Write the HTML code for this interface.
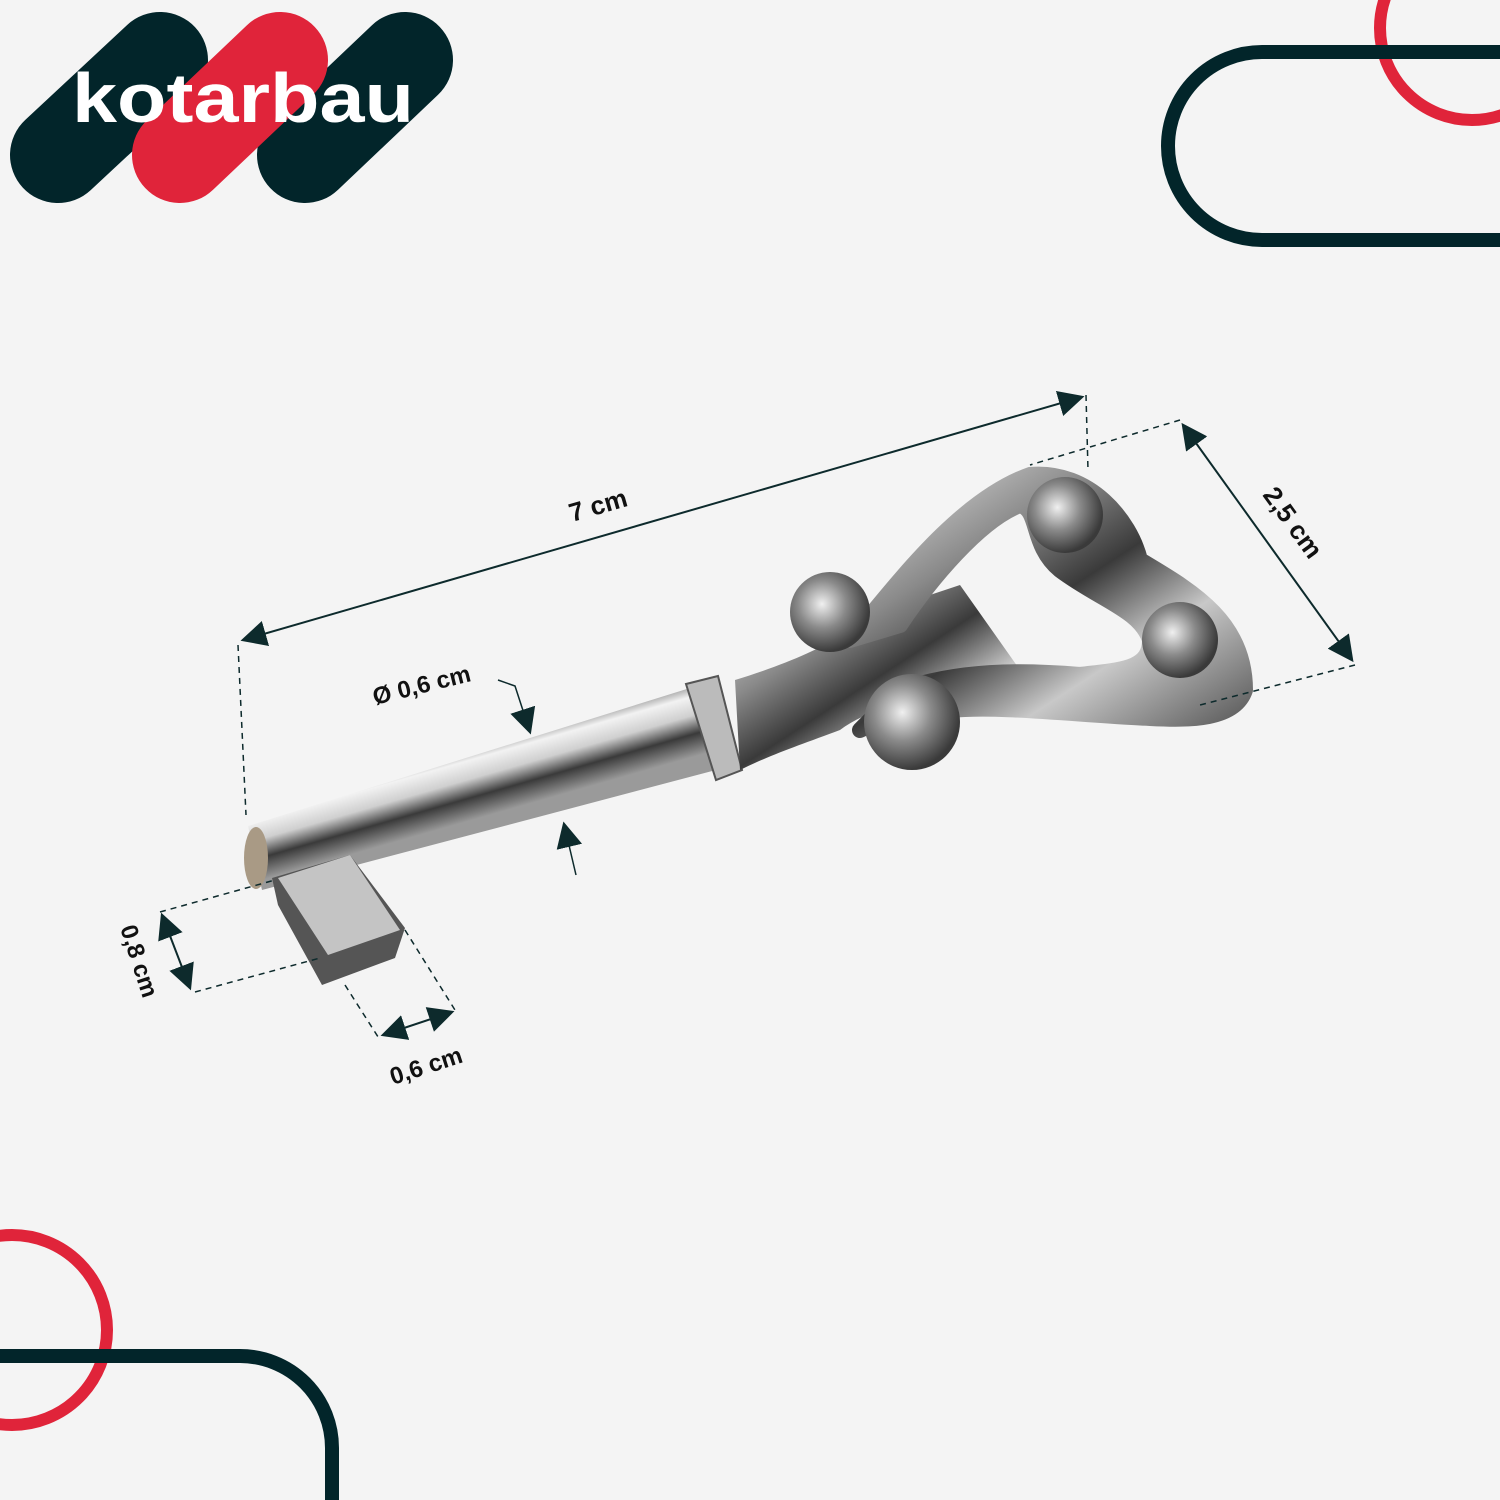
<!DOCTYPE html>
<html><head><meta charset="utf-8"><style>
html,body{margin:0;padding:0;background:#f4f4f4;}
svg{display:block}
text{font-family:"Liberation Sans",sans-serif;font-weight:bold;fill:#111;}
</style></head><body>
<svg width="1500" height="1500" viewBox="0 0 1500 1500" xmlns="http://www.w3.org/2000/svg">
<defs>
<linearGradient id="shaft" gradientUnits="userSpaceOnUse" x1="470" y1="745" x2="490" y2="815">
<stop offset="0" stop-color="#8a8a8a"/><stop offset="0.2" stop-color="#f2f2f2"/><stop offset="0.45" stop-color="#cfcfcf"/><stop offset="0.7" stop-color="#3a3a3a"/><stop offset="1" stop-color="#9a9a9a"/>
</linearGradient>
<linearGradient id="head" x1="0" y1="0" x2="1" y2="1">
<stop offset="0" stop-color="#e8e8e8"/><stop offset="0.3" stop-color="#8a8a8a"/><stop offset="0.5" stop-color="#3a3a3a"/><stop offset="0.7" stop-color="#c8c8c8"/><stop offset="1" stop-color="#555"/>
</linearGradient>
<radialGradient id="ball" cx="0.4" cy="0.4" r="0.6">
<stop offset="0" stop-color="#f0f0f0"/><stop offset="0.5" stop-color="#8a8a8a"/><stop offset="1" stop-color="#3a3a3a"/>
</radialGradient>
<marker id="ar" viewBox="0 0 10 10" refX="9" refY="5" markerWidth="26" markerHeight="26" markerUnits="userSpaceOnUse" orient="auto-start-reverse"><path d="M0,0 L10,5 L0,10 z" fill="#0d2a2c"/></marker>
</defs>
<rect width="1500" height="1500" fill="#f4f4f4"/>
<g stroke-linecap="round" fill="none">
<line x1="58" y1="155" x2="160" y2="60" stroke="#02252a" stroke-width="96"/>
<line x1="305" y1="155" x2="405" y2="60" stroke="#02252a" stroke-width="96"/>
<line x1="180" y1="155" x2="280" y2="60" stroke="#e0243a" stroke-width="96"/>
</g>
<text x="72" y="122" font-size="70" style="fill:#fff" textLength="342" lengthAdjust="spacingAndGlyphs">kotarbau</text>
<circle cx="1472" cy="28" r="92" fill="none" stroke="#e0243a" stroke-width="12"/>
<path d="M1520,52 H1262 A94,94 0 0 0 1262,240 H1520" fill="none" stroke="#02252a" stroke-width="14"/>
<circle cx="12" cy="1330" r="95" fill="none" stroke="#e0243a" stroke-width="12"/>
<path d="M-10,1356 H240 A92,92 0 0 1 332,1448 V1510" fill="none" stroke="#02252a" stroke-width="14"/>
<polygon points="248,826 690,688 716,770 262,890" fill="url(#shaft)"/>
<ellipse cx="256" cy="858" rx="12" ry="31" fill="#a99a85"/>
<polygon points="686,684 718,676 742,770 716,780" fill="#bbb" stroke="#555" stroke-width="2"/>
<path d="M735,680 C800,660 840,640 870,615 L960,585 L1020,670 C960,690 880,700 840,730 C800,745 770,755 740,770 Z" fill="url(#head)"/>
<path d="M850,640 C900,580 960,500 1030,475 C1090,470 1130,520 1140,560 C1190,590 1245,620 1245,690 C1235,720 1190,720 1150,718 C1080,715 1000,705 950,710 C920,715 880,720 860,730 L900,690 C960,670 1020,670 1080,675 C1120,670 1150,670 1150,640 C1140,610 1100,600 1060,570 C1030,545 1040,510 1020,505 C980,520 930,580 900,625 Z" fill="url(#head)" stroke="url(#head)" stroke-width="16" stroke-linejoin="round"/>
<circle cx="830" cy="612" r="40" fill="url(#ball)"/>
<circle cx="912" cy="722" r="48" fill="url(#ball)"/>
<circle cx="1065" cy="515" r="38" fill="url(#ball)"/>
<circle cx="1180" cy="640" r="38" fill="url(#ball)"/>
<polygon points="272,878 350,855 405,928 395,958 322,985 278,905" fill="#555"/>
<polygon points="278,878 350,855 400,930 328,955" fill="#c4c4c4"/>
<g stroke="#0d2a2c" stroke-width="1.5" fill="none">
<line x1="243" y1="640" x2="1082" y2="397" marker-start="url(#ar)" marker-end="url(#ar)" stroke-width="2"/>
<line x1="1183" y1="425" x2="1352" y2="660" marker-start="url(#ar)" marker-end="url(#ar)" stroke-width="2"/>
<line x1="162" y1="915" x2="190" y2="988" marker-start="url(#ar)" marker-end="url(#ar)" stroke-width="2"/>
<line x1="383" y1="1035" x2="452" y2="1012" marker-start="url(#ar)" marker-end="url(#ar)" stroke-width="2"/>
<path d="M498,680 L515,686 L530,732" marker-end="url(#ar)"/>
<line x1="576" y1="875" x2="564" y2="824" marker-end="url(#ar)"/>
<g stroke-dasharray="6,5">
<line x1="238" y1="645" x2="246" y2="815"/>
<line x1="1086" y1="395" x2="1088" y2="470"/>
<line x1="1180" y1="420" x2="1030" y2="465"/>
<line x1="1355" y1="665" x2="1200" y2="705"/>
<line x1="160" y1="912" x2="275" y2="880"/>
<line x1="195" y1="992" x2="320" y2="958"/>
<line x1="345" y1="985" x2="380" y2="1040"/>
<line x1="405" y1="930" x2="455" y2="1010"/>
</g>
</g>
<text font-size="26" transform="translate(572,522) rotate(-16)">7 cm</text>
<text font-size="26" transform="translate(1262,495) rotate(54)">2,5 cm</text>
<text font-size="24" transform="translate(375,705) rotate(-14)">Ø 0,6 cm</text>
<text font-size="24" transform="translate(120,928) rotate(72)">0,8 cm</text>
<text font-size="24" transform="translate(393,1085) rotate(-18)">0,6 cm</text>
</svg>
</body></html>
